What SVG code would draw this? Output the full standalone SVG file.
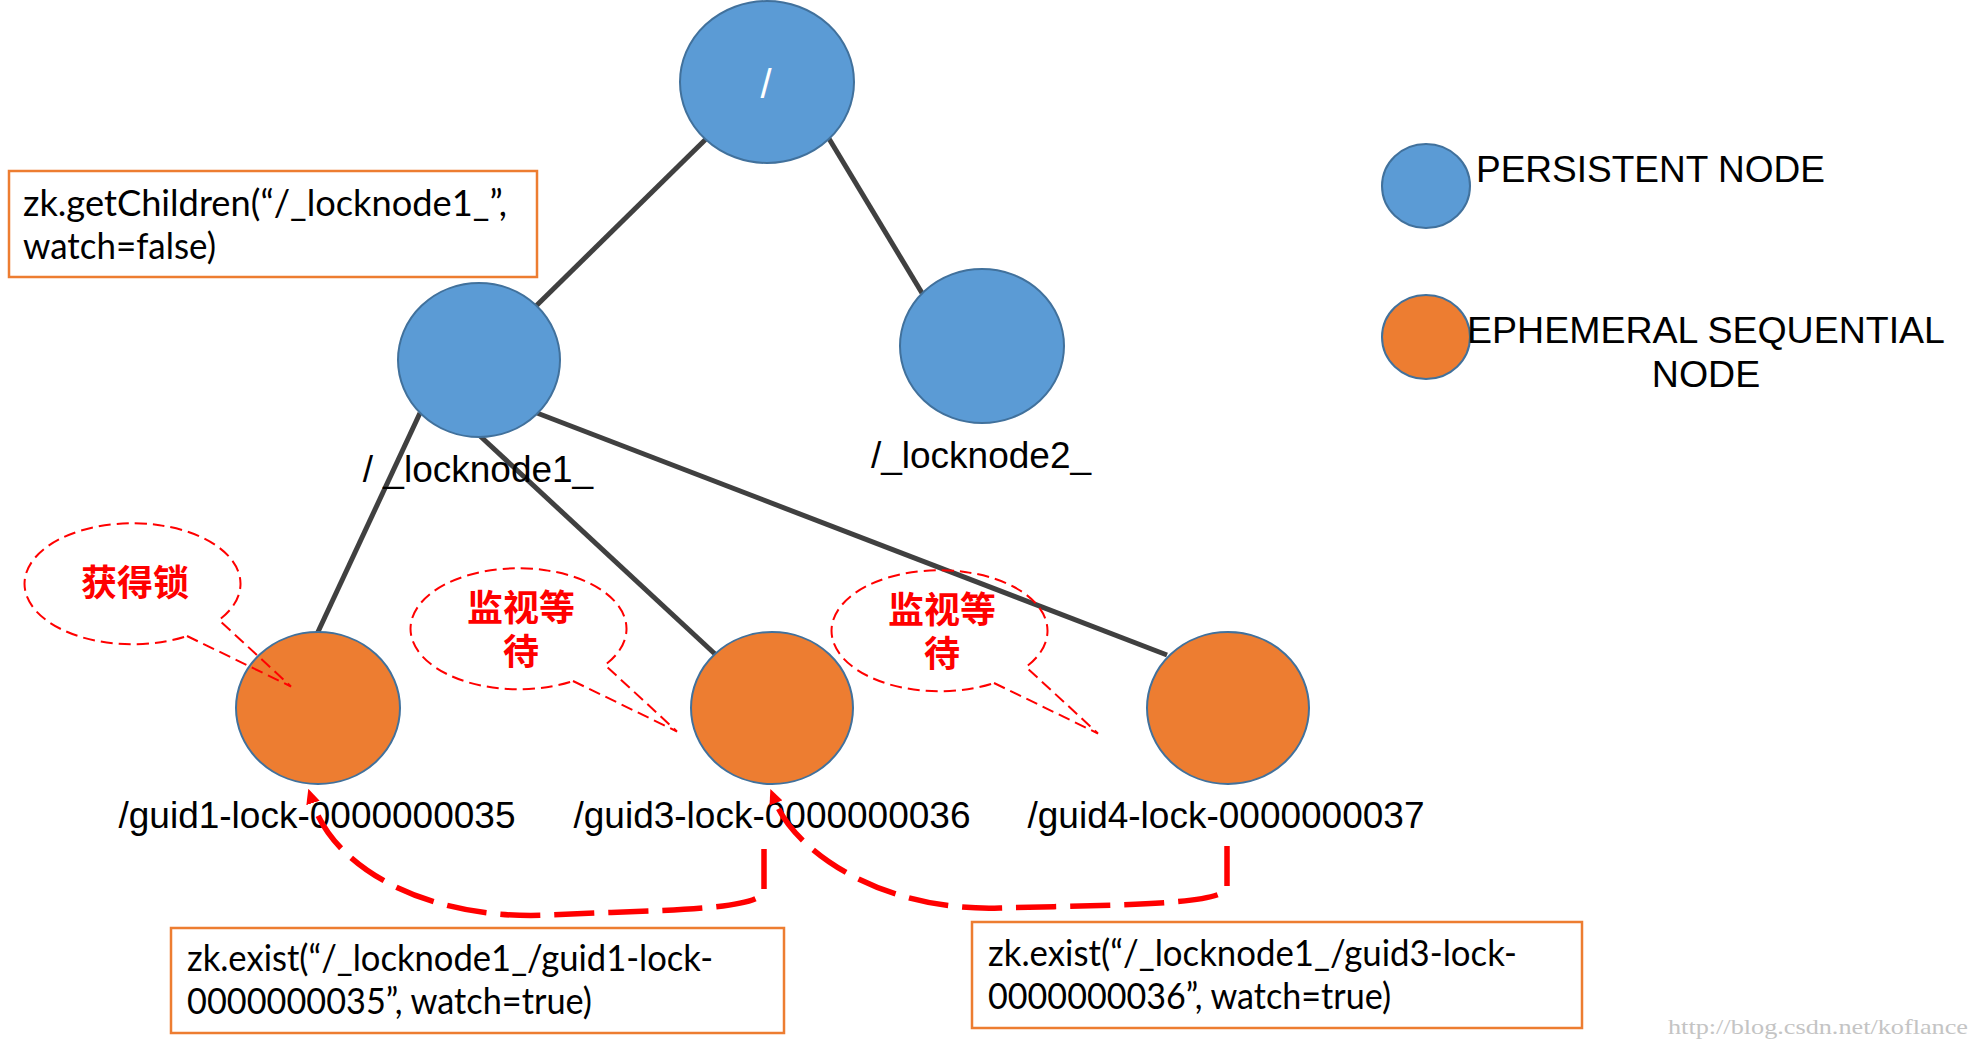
<svg xmlns="http://www.w3.org/2000/svg" width="1971" height="1049" viewBox="0 0 1971 1049">
<style>
.edge{stroke:#404040;stroke-width:5;fill:none}
.pn{fill:#5B9BD5;stroke:#41719C;stroke-width:2}
.en{fill:#ED7D31;stroke:#41719C;stroke-width:2}
.lbl{font-family:'Liberation Sans',Arial,sans-serif;font-size:37px;fill:#000}
.mid{text-anchor:middle}
.box{fill:#fff;stroke:#ED7D31;stroke-width:2.5}
.code{font-family:Lato,'Open Sans',sans-serif;font-size:36px;fill:#000}
.call{fill:none;stroke:#FF0000;stroke-width:2;stroke-dasharray:12 6}
.cjk{font-family:'Noto Sans CJK SC',sans-serif;font-size:36px;font-weight:bold;fill:#FF0000;text-anchor:middle}
.watch{fill:none;stroke:#FF0000;stroke-width:5.5;stroke-dasharray:40 14;marker-end:url(#ah)}
.wm{font-family:'Liberation Serif',serif;font-size:21px;fill:#c4c4c4}
</style>
<defs>
<marker id="ah" markerUnits="userSpaceOnUse" markerWidth="15" markerHeight="14" refX="0" refY="7" orient="auto" viewBox="0 0 15 14">
<path d="M0,0 L15,7 L0,14 Z" fill="#FF0000"/>
</marker>
<path id="callout" d="M52,53.5 L156,104 L84,37.5 A108,60.5 0 1 0 52,53.5 Z"/>
</defs>
<rect width="1971" height="1049" fill="#fff"/>

<g id="connectors">
<line class="edge" x1="707" y1="138" x2="535" y2="307"/>
<line class="edge" x1="828" y1="137" x2="922" y2="293"/>
<line class="edge" x1="420" y1="413" x2="317" y2="634"/>
<line class="edge" x1="479" y1="435" x2="715" y2="654"/>
<line class="edge" x1="537" y1="413" x2="1167" y2="655"/>
</g>

<g id="root">
<ellipse class="pn" cx="767" cy="82" rx="87" ry="81"/>
<text class="lbl mid" x="766" y="98" style="fill:#fff;font-size:40px">/</text>
</g>
<g id="locknode1">
<ellipse class="pn" cx="479" cy="360" rx="81" ry="77"/>
<text class="lbl mid" x="478" y="482">/ _locknode1_</text>
</g>
<g id="locknode2">
<ellipse class="pn" cx="982" cy="346" rx="82" ry="77"/>
<text class="lbl mid" x="981" y="468">/_locknode2_</text>
</g>
<g id="guid1">
<ellipse class="en" cx="318" cy="708" rx="82" ry="76"/>
<text class="lbl mid" x="317" y="828">/guid1-lock-0000000035</text>
</g>
<g id="guid3">
<ellipse class="en" cx="772" cy="708" rx="81" ry="76"/>
<text class="lbl mid" x="772" y="828">/guid3-lock-0000000036</text>
</g>
<g id="guid4">
<ellipse class="en" cx="1228" cy="708" rx="81" ry="76"/>
<text class="lbl mid" x="1226" y="828">/guid4-lock-0000000037</text>
</g>

<g id="legend">
<ellipse class="pn" cx="1426" cy="186" rx="44" ry="42"/>
<text class="lbl" x="1476" y="182">PERSISTENT NODE</text>
<ellipse class="en" cx="1426" cy="337" rx="44" ry="42"/>
<text class="lbl mid" style="font-size:37.5px"><tspan x="1706" y="343">EPHEMERAL SEQUENTIAL</tspan><tspan x="1706" y="387">NODE</tspan></text>
</g>

<g id="callout-lock">
<use href="#callout" class="call" transform="translate(135,582.5)"/>
<text class="cjk" x="135" y="596">获得锁</text>
</g>
<g id="callout-wait1">
<use href="#callout" class="call" transform="translate(521,627.5)"/>
<text class="cjk"><tspan x="521" y="621">监视等</tspan><tspan x="521" y="665">待</tspan></text>
</g>
<g id="callout-wait2">
<use href="#callout" class="call" transform="translate(942,629.5)"/>
<text class="cjk"><tspan x="942" y="623">监视等</tspan><tspan x="942" y="667">待</tspan></text>
</g>

<g id="watch-arrows">
<path class="watch" d="M764,849 L764,890 C764,912 640,910 550,915 C430,921 335,870 313,803"/>
<path class="watch" d="M1227,846 L1227,887 C1227,906 1100,905 1000,908 C880,912 795,850 776,803"/>
</g>

<g id="box-getchildren">
<rect class="box" x="9" y="171" width="528" height="106"/>
<text class="code" x="23" y="216" textLength="484" lengthAdjust="spacingAndGlyphs">zk.getChildren(“/_locknode1_”,</text>
<text class="code" x="23" y="259" textLength="193" lengthAdjust="spacingAndGlyphs">watch=false)</text>
</g>
<g id="box-exist1">
<rect class="box" x="171" y="928" width="613" height="105"/>
<text class="code" x="187" y="971" textLength="526" lengthAdjust="spacingAndGlyphs">zk.exist(“/_locknode1_/guid1-lock-</text>
<text class="code" x="187" y="1014" textLength="405" lengthAdjust="spacingAndGlyphs">0000000035”, watch=true)</text>
</g>
<g id="box-exist3">
<rect class="box" x="972" y="922" width="610" height="106"/>
<text class="code" x="988" y="966" textLength="529" lengthAdjust="spacingAndGlyphs">zk.exist(“/_locknode1_/guid3-lock-</text>
<text class="code" x="988" y="1009" textLength="403" lengthAdjust="spacingAndGlyphs">0000000036”, watch=true)</text>
</g>

<text class="wm" x="1668" y="1034" textLength="300" lengthAdjust="spacingAndGlyphs">http://blog.csdn.net/koflance</text>
</svg>
